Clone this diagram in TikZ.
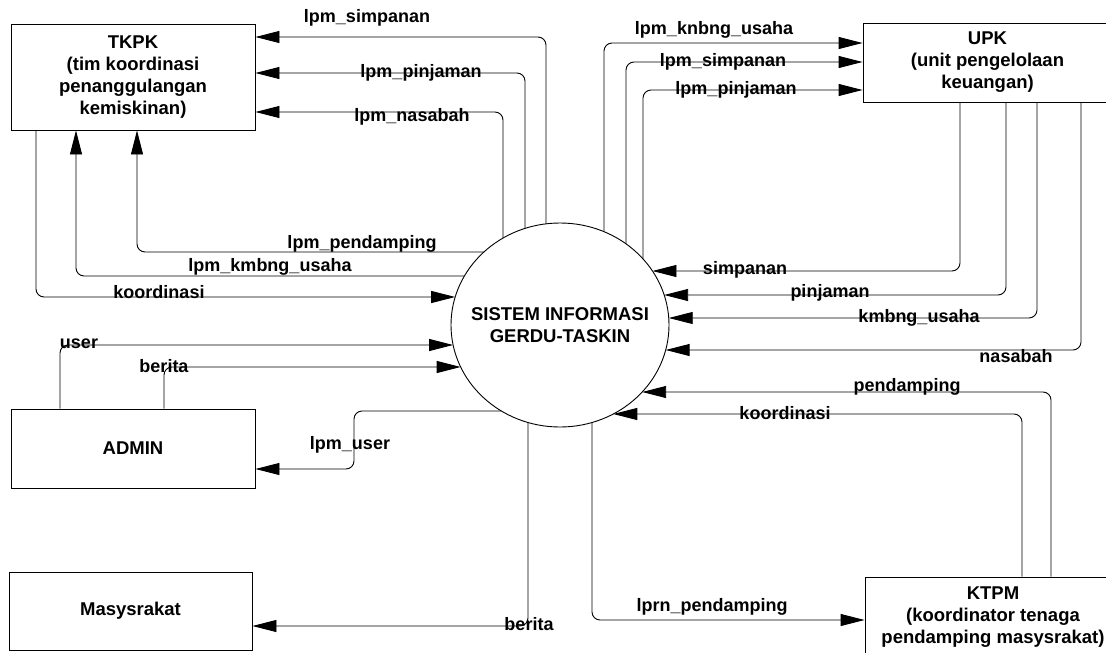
\documentclass[tikz,border=0pt]{standalone}
\usepackage{fontspec}
\setmainfont{Liberation Sans}
\usetikzlibrary{arrows.meta,shapes.geometric,calc}

% geometry of the central process (ellipse), in picture units
\newcommand\ellcx{560}
\newcommand\ellcy{325}
\newcommand\ellrx{109}
\newcommand\ellry{102}
% points on the process border at a given height (left/right) or abscissa (top/bottom)
\newcommand\sysleft[2]{\coordinate (#1) at ({\ellcx-\ellrx*sqrt(1-(#2-\ellcy)*(#2-\ellcy)/(\ellry*\ellry))},#2);}
\newcommand\sysright[2]{\coordinate (#1) at ({\ellcx+\ellrx*sqrt(1-(#2-\ellcy)*(#2-\ellcy)/(\ellry*\ellry))},#2);}
\newcommand\systop[2]{\coordinate (#1) at (#2,{\ellcy-\ellry*sqrt(1-(#2-\ellcx)*(#2-\ellcx)/(\ellrx*\ellrx))});}
\newcommand\sysbottom[2]{\coordinate (#1) at (#2,{\ellcy+\ellry*sqrt(1-(#2-\ellcx)*(#2-\ellcx)/(\ellrx*\ellrx))});}

\begin{document}
\begin{tikzpicture}[x=1pt,y=-1pt,
  dfdfont/.style={font=\fontsize{18.5}{22}\selectfont\bfseries},
  entity/.style={draw, line width=0.9pt, dfdfont, align=center, inner sep=0pt},
  flow/.style={draw, line width=0.9pt, rounded corners=8pt,
               -{Triangle[length=24pt,width=12pt]}},
  lbl/.style={font=\fontsize{18}{22}\selectfont\bfseries, inner sep=0pt}]

\useasboundingbox (0,0) rectangle (1106,653);
\fill[white] (0,0) rectangle (1106,653);
\clip (0,0) rectangle (1106,653);

% external entities
\node[entity, minimum width=244pt, minimum height=106pt] (tkpk) at (133,77)
  {TKPK\\(tim koordinasi\\penanggulangan\\kemiskinan)};
\node[entity, minimum width=249pt, minimum height=79pt] (upk) at (987.5,62.5)
  {UPK\\(unit pengelolaan\\keuangan)};
\node[entity, minimum width=244pt, minimum height=79pt] (admin) at (133,448.5)
  {ADMIN};
\node[entity, minimum width=243pt, minimum height=78pt] (masy) at (130.5,611)
  {Masysrakat};
\node[entity, minimum width=256pt, minimum height=81pt] (ktpm) at (993,617.5)
  {KTPM\\(koordinator tenaga\\pendamping masysrakat)};

% central process: the ellipse keeps its own size, the text sits inside it
\node[ellipse, draw, line width=0.9pt, dfdfont, align=center,
      inner xsep=-40pt, inner ysep=0pt,
      minimum width=218pt, minimum height=204pt] (sys) at (\ellcx,\ellcy)
  {SISTEM INFORMASI\\GERDU-TASKIN};

% process -> TKPK
\systop{t1}{546}
\systop{t2}{525}
\systop{t3}{503}
\sysleft{l1}{252}
\sysleft{l2}{276}
\sysleft{l3}{297}
\draw[flow] (t1) |- (tkpk.east |- 0,37);
\draw[flow] (t2) |- (tkpk.east |- 0,73);
\draw[flow] (t3) |- (tkpk.east |- 0,112);
\draw[flow] (l1) -| (tkpk.south -| 137,0);
\draw[flow] (l2) -| (tkpk.south -| 76,0);
\draw[flow] (tkpk.south -| 36,0) |- (l3);

% process -> UPK
\systop{t4}{604}
\systop{t5}{626}
\systop{t6}{643}
\draw[flow] (t4) |- (upk.west |- 0,43);
\draw[flow] (t5) |- (upk.west |- 0,62);
\draw[flow] (t6) |- (upk.west |- 0,90);

% UPK -> process
\sysright{r1}{271}
\sysright{r2}{295}
\sysright{r3}{318}
\sysright{r4}{350}
\draw[flow] (upk.south -| 960,0) |- (r1);
\draw[flow] (upk.south -| 1006,0) |- (r2);
\draw[flow] (upk.south -| 1037,0) |- (r3);
\draw[flow] (upk.south -| 1081,0) |- (r4);

% KTPM <-> process
\sysright{r5}{392}
\sysright{r6}{414}
\sysbottom{b1}{592}
\draw[flow] (ktpm.north -| 1051,0) |- (r5);
\draw[flow] (ktpm.north -| 1022,0) |- (r6);
\draw[flow] (b1) |- (ktpm.west |- 0,620);

% process -> Masyarakat
\sysbottom{b2}{528}
\draw[flow] (b2) |- (masy.east |- 0,626);

% ADMIN <-> process
\sysleft{l4}{345}
\sysleft{l5}{367}
\sysleft{l6}{411}
\draw[flow] (admin.north -| 60,0) |- (l4);
\draw[flow] (admin.north -| 164,0) |- (l5);
\draw[flow] (l6) -- (354,411) |- (admin.east |- 0,469);

% flow labels
\node[lbl] (f1)  at (367,18)   {lpm\_simpanan};
\node[lbl] (f2)  at (421,73)   {lpm\_pinjaman};
\node[lbl] (f3)  at (412,117)  {lpm\_nasabah};
\node[lbl] (f4)  at (362,244)  {lpm\_pendamping};
\node[lbl] (f5)  at (270,267)  {lpm\_kmbng\_usaha};
\node[lbl] (f6)  at (159,292)  {koordinasi};
\node[lbl] (f7)  at (714,30)   {lpm\_knbng\_usaha};
\node[lbl] (f8)  at (723,62)   {lpm\_simpanan};
\node[lbl] (f9)  at (736,90)   {lpm\_pinjaman};
\node[lbl] (f10) at (745,270)  {simpanan};
\node[lbl] (f11) at (830,293)  {pinjaman};
\node[lbl] (f12) at (919,318)  {kmbng\_usaha};
\node[lbl] (f13) at (1016,356) {nasabah};
\node[lbl] (f14) at (907,387)  {pendamping};
\node[lbl] (f15) at (785,413)  {koordinasi};
\node[lbl] (f16) at (712,607)  {lprn\_pendamping};
\node[lbl] (f17) at (529,624)  {berita};
\node[lbl] (f18) at (79,344)   {user};
\node[lbl] (f19) at (164,366)  {berita};
\node[lbl] (f20) at (350,445)  {lpm\_user};

\end{tikzpicture}
\end{document}
